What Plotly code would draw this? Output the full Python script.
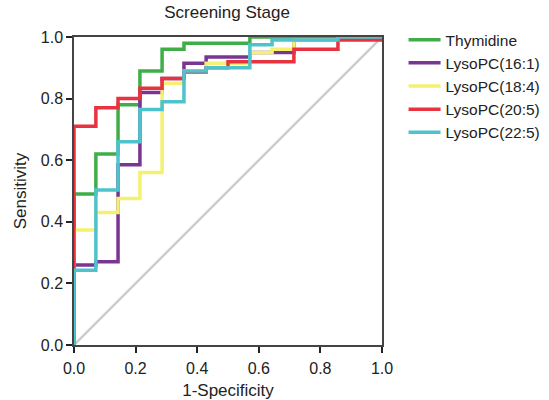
import plotly.graph_objects as go

# False positive rate step positions (1-Specificity)
fpr = [0.0, 0.0, 0.071, 0.143, 0.214, 0.286, 0.357, 0.429, 0.5, 0.571,
       0.643, 0.714, 0.786, 0.857, 0.929, 1.0]

series_names = ["Thymidine", "LysoPC(16:1)", "LysoPC(18:4)", "LysoPC(20:5)", "LysoPC(22:5)"]

tpr_thymidine = [0.0, 0.49, 0.62, 0.78, 0.89, 0.96, 0.98, 0.98, 0.98, 1.0, 1.0, 1.0, 1.0, 1.0, 1.0, 1.0]
tpr_16_1 = [0.0, 0.26, 0.27, 0.585, 0.82, 0.865, 0.915, 0.935, 0.935, 0.95, 0.95, 0.99, 0.99, 1.0, 1.0, 1.0]
tpr_18_4 = [0.0, 0.373, 0.43, 0.476, 0.56, 0.85, 0.89, 0.915, 0.915, 0.95, 0.96, 0.99, 0.99, 1.0, 1.0, 1.0]
tpr_20_5 = [0.0, 0.71, 0.77, 0.80, 0.834, 0.865, 0.886, 0.90, 0.92, 0.92, 0.92, 0.96, 0.96, 0.99, 0.99, 1.0]
tpr_22_5 = [0.0, 0.243, 0.503, 0.66, 0.765, 0.79, 0.89, 0.90, 0.90, 0.975, 0.99, 0.99, 0.99, 1.0, 1.0, 1.0]

all_tpr = [tpr_thymidine, tpr_16_1, tpr_18_4, tpr_20_5, tpr_22_5]
colors = ["#3fae49", "#7a3593", "#f4f170", "#e8323f", "#4ec3cb"]

tick_vals = [0, 0.2, 0.4, 0.6, 0.8, 1.0]
tick_text = ["0.0", "0.2", "0.4", "0.6", "0.8", "1.0"]

ref_x = [0.0, 1.0]
ref_y = [0.0, 1.0]

fig = go.Figure()
fig.add_trace(go.Scatter(x=ref_x, y=ref_y, mode="lines",
                         line=dict(color="#cccccc", width=2.5),
                         showlegend=False, hoverinfo="skip"))
for name, tpr, c in zip(series_names, all_tpr, colors):
    fig.add_trace(go.Scatter(x=fpr, y=tpr, mode="lines", name=name,
                             line=dict(color=c, width=3.5, shape="hv")))

FONT = "Liberation Sans, Arial, sans-serif"
fig.update_layout(
    width=549, height=400,
    margin=dict(l=74, r=167, t=37, b=55, autoexpand=False),
    paper_bgcolor="white", plot_bgcolor="white",
    font=dict(family=FONT, size=16, color="#222"),
    title=dict(text="Screening Stage", x=0.497, xref="paper", xanchor="center",
               y=0.97, yanchor="middle", automargin=False,
               font=dict(family=FONT, size=17, color="#222")),
    legend=dict(x=1.07, y=1.045, xanchor="left", yanchor="top",
                font=dict(family=FONT, size=15.5, color="#222"), tracegroupgap=0,
                itemwidth=32, bgcolor="rgba(0,0,0,0)"),
    showlegend=True,
)
fig.update_xaxes(range=[0, 1], tickvals=tick_vals, ticktext=tick_text,
                 ticks="outside", ticklen=6, tickwidth=1.5, tickcolor="#222",
                 ticklabelstandoff=2,
                 showline=True, linecolor="#444", linewidth=1.5, mirror=True,
                 showgrid=False, zeroline=False, automargin=False,
                 title=dict(text="1-Specificity", standoff=17,
                            font=dict(family=FONT, size=17, color="#222")))
fig.update_yaxes(range=[0, 1], tickvals=tick_vals, ticktext=tick_text,
                 ticks="outside", ticklen=6, tickwidth=1.5, tickcolor="#222",
                 showline=True, linecolor="#444", linewidth=1.5, mirror=True,
                 showgrid=False, zeroline=False, automargin=False,
                 title=dict(text="Sensitivity", standoff=10,
                            font=dict(family=FONT, size=17, color="#222")))

fig.write_html("out.html", config={"displayModeBar": False},
               post_script="document.body.style.margin='0';")
